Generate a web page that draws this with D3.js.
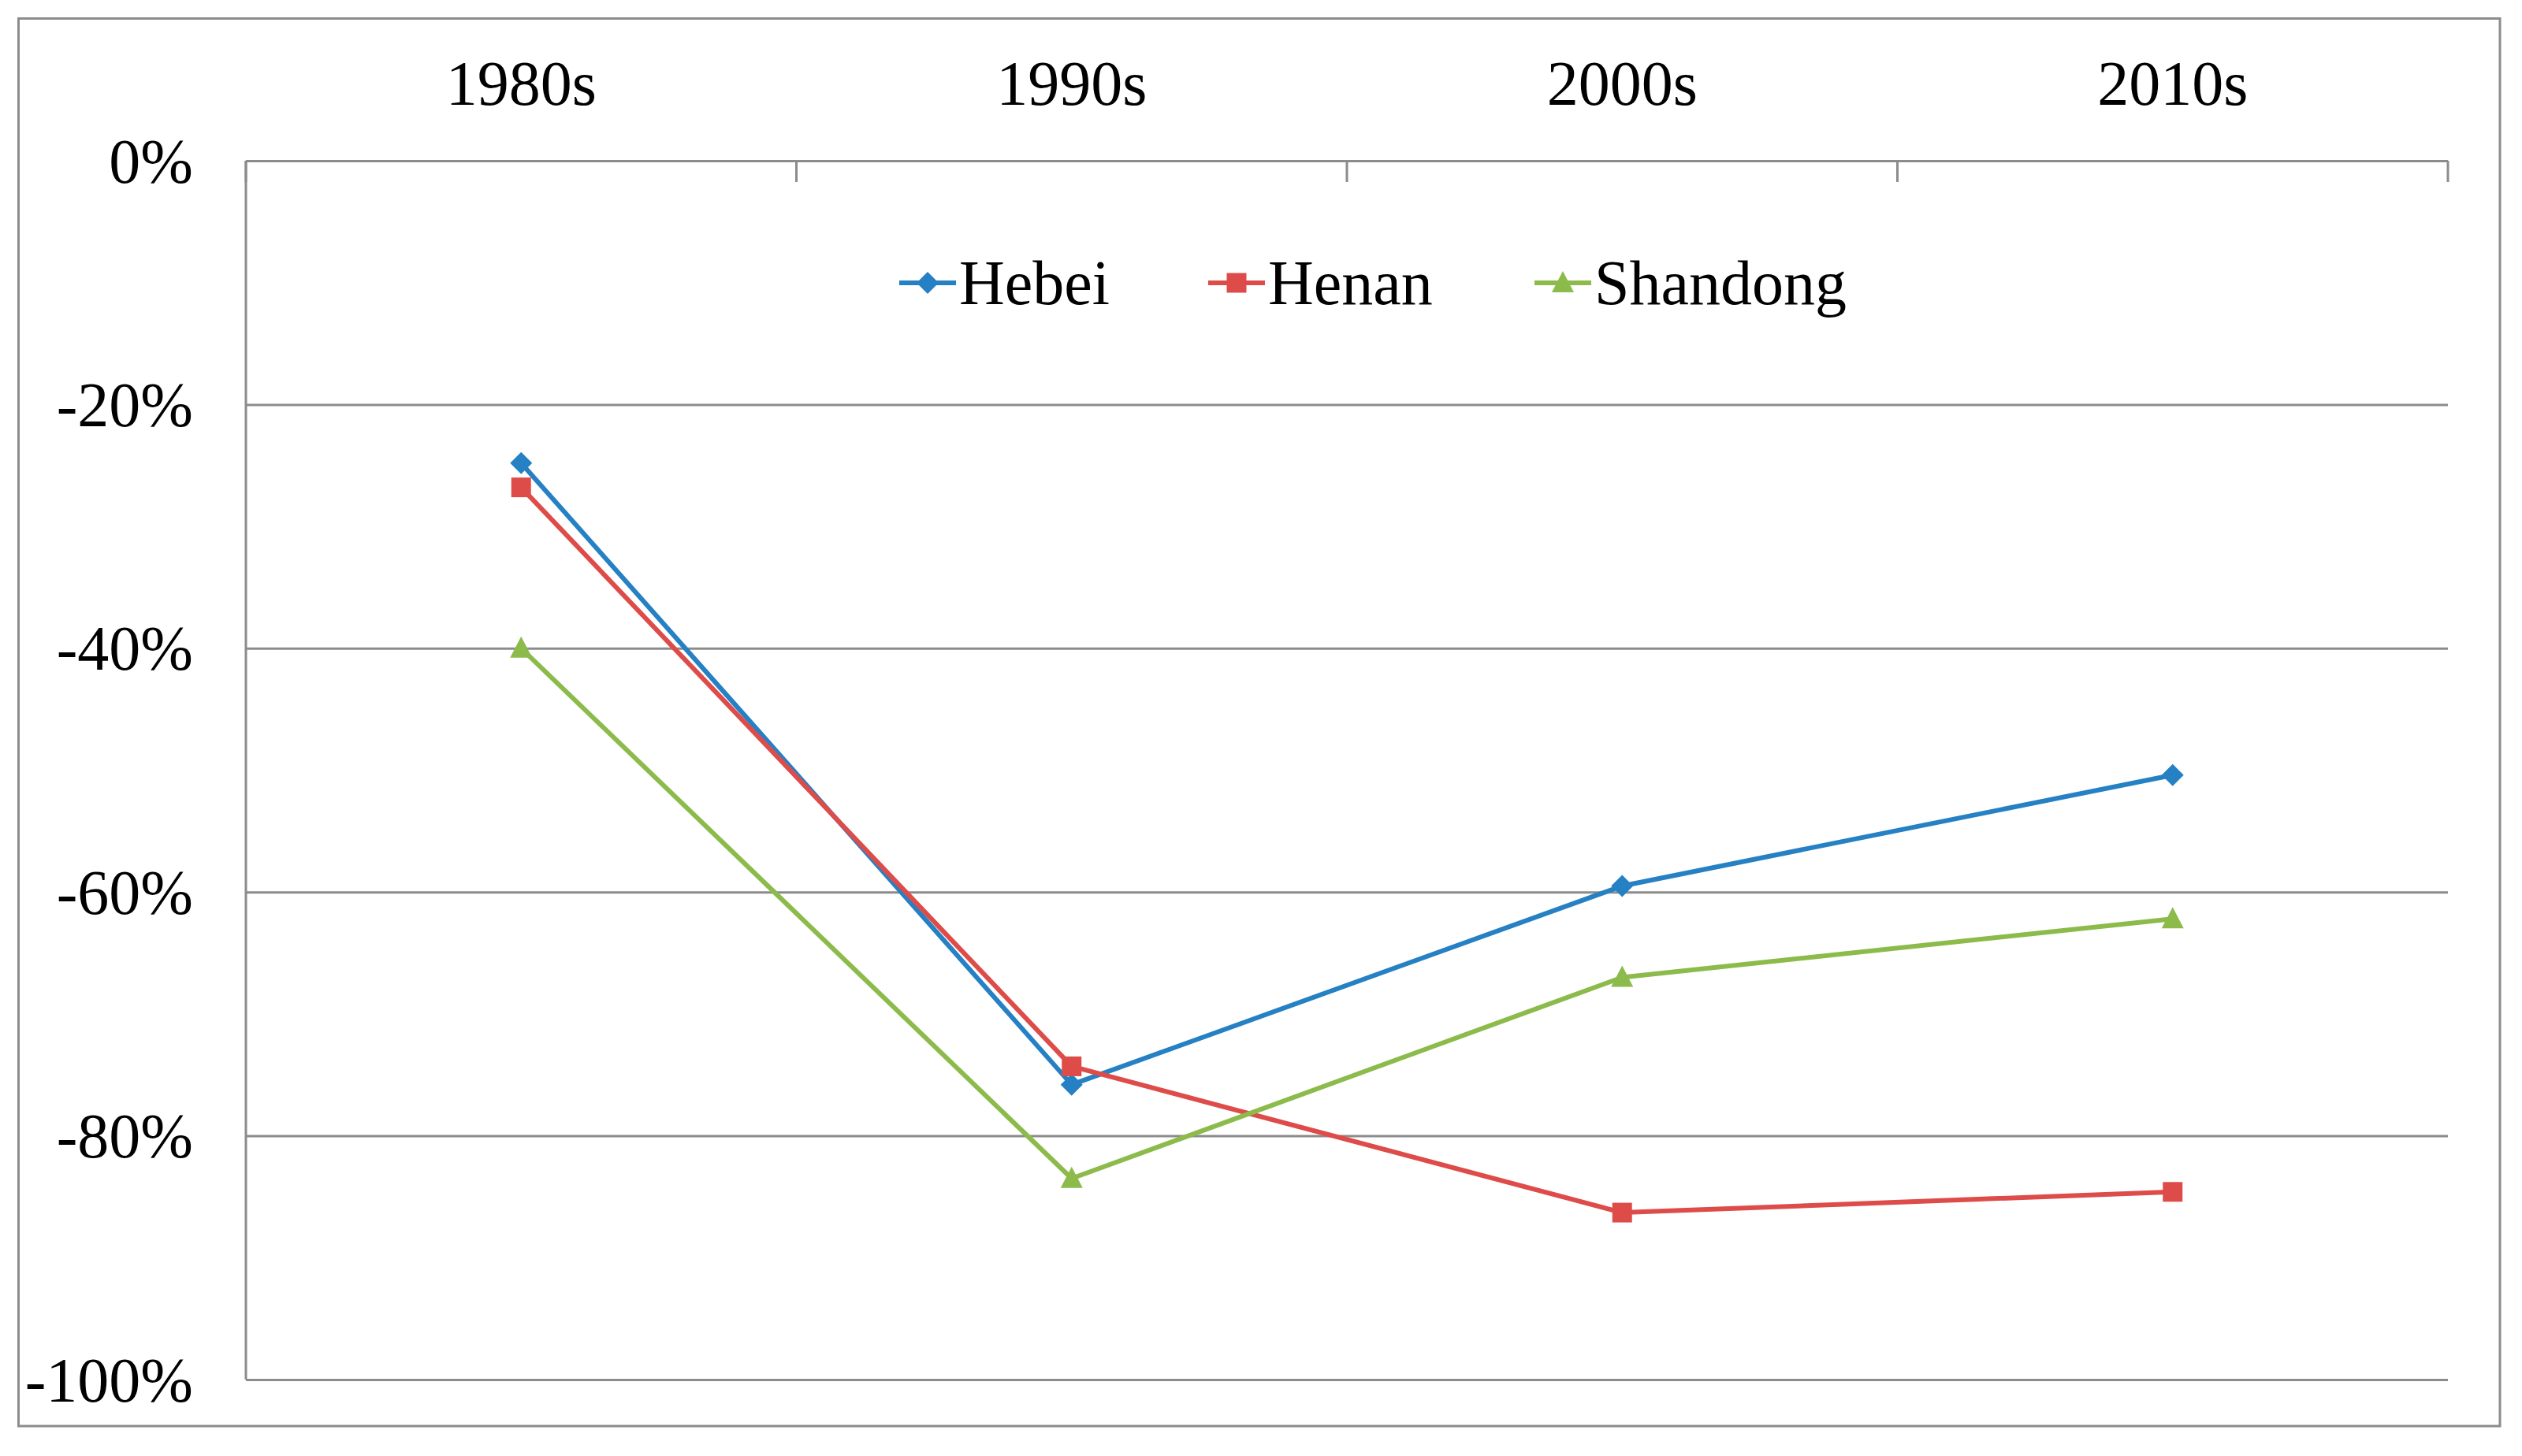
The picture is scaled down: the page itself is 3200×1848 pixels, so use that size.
<!DOCTYPE html>
<html>
<head>
<meta charset="utf-8">
<script src="https://cdn.jsdelivr.net/npm/d3@7"></script>
<style>
  html, body { margin: 0; padding: 0; background: #fff; }
  svg { display: block; }
  text { font-family: "Liberation Serif", "Times New Roman", serif; fill: #000; }
</style>
</head>
<body>
<svg id="chart" width="3200" height="1848"></svg>
<script>
const categories = ["1980s", "1990s", "2000s", "2010s"];
const seriesNames = ["Hebei", "Henan", "Shandong"];
const hebei    = [-24.8, -75.8, -59.5, -50.4];
const henan    = [-26.8, -74.3, -86.3, -84.6];
const shandong = [-40.0, -83.5, -67.0, -62.2];
const yTicks = [0, -20, -40, -60, -80, -100];
const colors = ["#2680C4", "#DE4C4A", "#8CBB4B"];
const markerTypes = ["diamond", "square", "triangle"];

const series = [hebei, henan, shandong].map((vals, i) => ({
  name: seriesNames[i], values: vals, color: colors[i], marker: markerTypes[i]
}));

const W = 3200, H = 1848;
const plot = { left: 312, right: 3106, top: 204, bottom: 1751 };
const svg = d3.select("#chart");

// outer border
svg.append("rect")
  .attr("x", 23.5).attr("y", 23.5)
  .attr("width", 3172 - 23.5).attr("height", 1810 - 23.5)
  .attr("fill", "#fff").attr("stroke", "#8c8c8c").attr("stroke-width", 3);

const x = d3.scaleBand().domain(categories).range([plot.left, plot.right]).padding(0);
const y = d3.scaleLinear().domain([-100, 0]).range([plot.bottom, plot.top]);
const cx = c => x(c) + x.bandwidth() / 2;

// gridlines
const grid = svg.append("g").attr("transform", `translate(${plot.left},0)`)
  .call(d3.axisLeft(y).tickValues(yTicks).tickSize(-(plot.right - plot.left)).tickFormat(""));
grid.select(".domain").remove();
grid.selectAll(".tick line").attr("stroke", "#8c8c8c").attr("stroke-width", 3);

// left axis line
svg.append("line")
  .attr("x1", plot.left).attr("x2", plot.left)
  .attr("y1", plot.top).attr("y2", plot.bottom)
  .attr("stroke", "#8c8c8c").attr("stroke-width", 3);

// y tick labels
const yAxis = svg.append("g").attr("transform", `translate(245,0)`)
  .call(d3.axisLeft(y).tickValues(yTicks).tickSize(0).tickPadding(0).tickFormat(d => d + "%"));
yAxis.select(".domain").remove();
yAxis.selectAll("text")
  .attr("font-size", 80)
  .attr("font-family", "Liberation Serif, Times New Roman, serif")
  .attr("fill", "#000")
  .attr("dy", 27)
  .attr("x", 0)
  .attr("text-anchor", "end");

// category ticks at band boundaries (top axis)
const bounds = categories.map(c => x(c)).concat([plot.right]);
svg.append("g").selectAll("line").data(bounds).join("line")
  .attr("x1", d => d).attr("x2", d => d)
  .attr("y1", plot.top).attr("y2", plot.top + 27)
  .attr("stroke", "#8c8c8c").attr("stroke-width", 3);

// category labels
svg.append("g").selectAll("text").data(categories).join("text")
  .attr("x", d => cx(d)).attr("y", 133)
  .attr("text-anchor", "middle")
  .attr("font-size", 80)
  .text(d => d);

// marker path generator
function markerPath(type) {
  if (type === "diamond") return "M0,-14L14,0L0,14L-14,0Z";
  if (type === "square") return "M-12.5,-12.5H12.5V12.5H-12.5Z";
  return "M0,-15L14,12L-14,12Z";
}

const line = d3.line().x((d, i) => cx(categories[i])).y(d => y(d));

series.forEach(s => {
  svg.append("path")
    .attr("d", line(s.values))
    .attr("fill", "none")
    .attr("stroke", s.color)
    .attr("stroke-width", 6)
    .attr("stroke-linejoin", "round");
});
series.forEach(s => {
  svg.append("g").selectAll("path").data(s.values).join("path")
    .attr("transform", (d, i) => `translate(${cx(categories[i])},${y(d)})`)
    .attr("d", markerPath(s.marker))
    .attr("fill", s.color);
});

// legend
const legendX = [1141, 1533, 1947];
const legendY = 359;
const lg = svg.append("g").selectAll("g").data(series).join("g")
  .attr("transform", (d, i) => `translate(${legendX[i]},${legendY})`);
lg.append("line").attr("x1", 0).attr("x2", 72).attr("y1", 0).attr("y2", 0)
  .attr("stroke", d => d.color).attr("stroke-width", 6);
lg.append("path").attr("transform", "translate(36,0)")
  .attr("d", d => markerPath(d.marker)).attr("fill", d => d.color);
lg.append("text").attr("x", 76).attr("y", 27)
  .attr("font-size", 80).text(d => d.name);
</script>
</body>
</html>
